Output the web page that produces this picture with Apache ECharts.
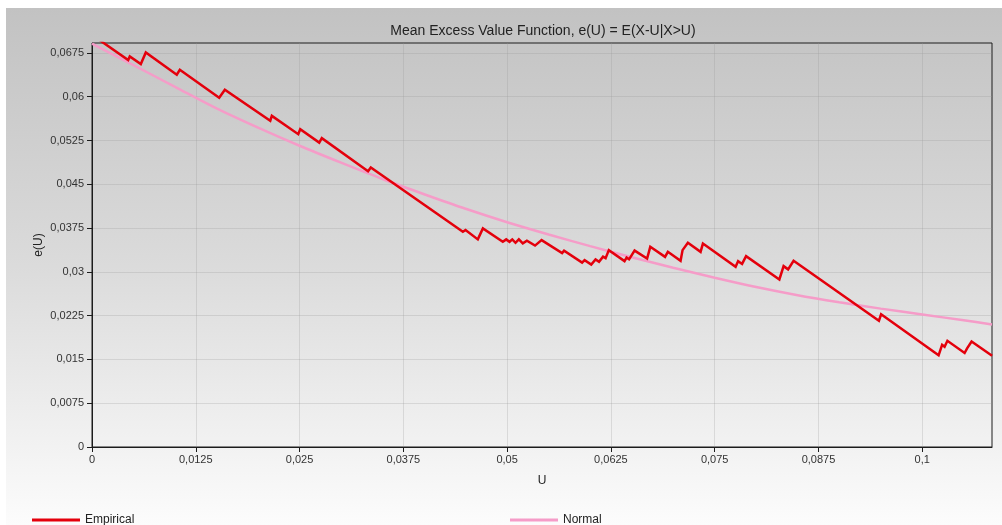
<!DOCTYPE html>
<html>
<head>
<meta charset="utf-8">
<script src="https://cdn.jsdelivr.net/npm/echarts@6/dist/echarts.min.js"></script>
<style>
  html, body { margin: 0; padding: 0; background: #ffffff; }
  #chart { width: 1002px; height: 525px; }
</style>
</head>
<body>
<div id="chart"></div>
<script>
// Empirical mean excess function: vertices of the sawtooth path (threshold U, e(U))
const empiricalU = [0, 0.00436, 0.00455, 0.00588, 0.00648, 0.01021, 0.01058, 0.01532, 0.01600, 0.02147,
  0.02166, 0.02484, 0.02508, 0.02737, 0.02768, 0.03325, 0.03358, 0.04467, 0.04499, 0.04647,
  0.04708, 0.04948, 0.04989, 0.05029, 0.05062, 0.05101, 0.05141, 0.05189, 0.05238, 0.05336,
  0.05415, 0.05662, 0.05686, 0.05903, 0.05933, 0.06013, 0.06065, 0.06107, 0.06155, 0.06186,
  0.06225, 0.06414, 0.06439, 0.06469, 0.06535, 0.06686, 0.06724, 0.06902, 0.06936, 0.07089,
  0.07113, 0.07137, 0.07177, 0.07330, 0.07358, 0.07752, 0.07782, 0.07830, 0.07878, 0.08279,
  0.08330, 0.08384, 0.08450, 0.09478, 0.09504, 0.10197, 0.10239, 0.10269, 0.10303, 0.10510,
  0.10540, 0.10564, 0.10594, 0.10841];
const empiricalE = [0.0706, 0.06628, 0.06690, 0.06559, 0.06759, 0.06376, 0.06462, 0.05981, 0.06118, 0.05586,
  0.05672, 0.05358, 0.05444, 0.05214, 0.05290, 0.04722, 0.04788, 0.03686, 0.03716, 0.03556,
  0.03745, 0.03515, 0.03556, 0.03515, 0.03556, 0.03498, 0.03556, 0.03487, 0.03532, 0.03450,
  0.03544, 0.03321, 0.03364, 0.03158, 0.03201, 0.03124, 0.03213, 0.03172, 0.03261, 0.03235,
  0.03372, 0.03184, 0.03244, 0.03215, 0.03364, 0.03227, 0.03429, 0.03257, 0.03343, 0.03189,
  0.03372, 0.03348, 0.03498, 0.03342, 0.03484, 0.03086, 0.03184, 0.03136, 0.03269, 0.02870,
  0.03098, 0.03043, 0.03189, 0.02162, 0.02274, 0.01570, 0.01751, 0.01716, 0.01819, 0.01610,
  0.01690, 0.01665, 0.01807, 0.01562];

// Fitted normal mean excess curve
const normalU = [0, 0.005, 0.01, 0.015, 0.02, 0.025, 0.03, 0.035, 0.04, 0.045, 0.05, 0.055,
  0.06, 0.065, 0.07, 0.075, 0.08, 0.085, 0.09, 0.095, 0.1, 0.105, 0.1084];
const normalE = [0.0691, 0.0654, 0.0617, 0.0580, 0.0547, 0.0516, 0.0487, 0.0459, 0.0433, 0.0408, 0.0385, 0.0364,
  0.0344, 0.0325, 0.0307, 0.0290, 0.0274, 0.0260, 0.0248, 0.0237, 0.0227, 0.0217, 0.0210];

// Axis ticks
const xTicks = [0, 0.0125, 0.025, 0.0375, 0.05, 0.0625, 0.075, 0.0875, 0.1];
const yTicks = [0, 0.0075, 0.015, 0.0225, 0.03, 0.0375, 0.045, 0.0525, 0.06, 0.0675];
const xMax = 0.1084;
const yMax = 0.0692;

const FONT = "'Liberation Sans', Arial, sans-serif";
const fmt = v => String(+(+v).toFixed(6)).replace('.', ',');
const zip = (a, b) => a.map((x, i) => [x, b[i]]);

const chart = echarts.init(document.getElementById('chart'), null, { renderer: 'canvas' });

chart.setOption({
  backgroundColor: '#ffffff',
  animation: false,
  graphic: {
    elements: [{
      type: 'rect',
      silent: true,
      z: -100,
      shape: { x: 6, y: 8, width: 996, height: 517 },
      style: {
        fill: new echarts.graphic.LinearGradient(0, 0, 0, 1, [
          { offset: 0, color: '#c2c2c2' },
          { offset: 0.5, color: '#dbdbdb' },
          { offset: 1, color: '#fcfcfc' }
        ])
      }
    }]
  },
  title: {
    text: 'Mean Excess Value Function, e(U) = E(X-U|X>U)',
    left: 538,
    textAlign: 'center',
    top: 19,
    textStyle: { fontFamily: FONT, fontSize: 14, fontWeight: 'normal', color: '#222' }
  },
  legend: [
    {
      data: ['Empirical'], left: 32, top: 514, padding: 0,
      icon: 'rect', itemWidth: 48, itemHeight: 3, itemGap: 5,
      textStyle: { fontFamily: FONT, fontSize: 12, color: '#222' }
    },
    {
      data: ['Normal'], left: 510, top: 514, padding: 0,
      icon: 'rect', itemWidth: 48, itemHeight: 3, itemGap: 5,
      textStyle: { fontFamily: FONT, fontSize: 12, color: '#222' }
    }
  ],
  grid: {
    left: 92, right: 10, top: 43, bottom: 78,
    show: true, borderColor: '#1c1c1c', borderWidth: 1, backgroundColor: 'transparent'
  },
  xAxis: {
    type: 'value',
    min: 0, max: xMax, interval: 0.0125,
    name: 'U', nameLocation: 'middle', nameGap: 28,
    nameTextStyle: { fontFamily: FONT, fontSize: 12, color: '#222' },
    axisLine: { show: true, lineStyle: { color: '#1c1c1c', width: 1 } },
    axisTick: { show: true, length: 5, lineStyle: { color: '#1c1c1c' }, customValues: xTicks },
    axisLabel: { fontFamily: FONT, fontSize: 11, color: '#333', margin: 7, formatter: fmt, customValues: xTicks },
    splitLine: { show: true, lineStyle: { color: 'rgba(150,150,150,0.26)', width: 1 } }
  },
  yAxis: {
    type: 'value',
    min: 0, max: yMax, interval: 0.0075,
    name: 'e(U)', nameLocation: 'middle', nameGap: 47, nameRotate: 90, nameMoveOverlap: false,
    nameTextStyle: { fontFamily: FONT, fontSize: 12, color: '#222' },
    axisLine: { show: true, lineStyle: { color: '#1c1c1c', width: 1 } },
    axisTick: { show: true, length: 5, lineStyle: { color: '#1c1c1c' }, customValues: yTicks },
    axisLabel: { fontFamily: FONT, fontSize: 11, color: '#333', margin: 8, formatter: fmt, customValues: yTicks },
    splitLine: { show: true, lineStyle: { color: 'rgba(150,150,150,0.26)', width: 1 } }
  },
  series: [
    {
      name: 'Normal',
      type: 'line',
      data: zip(normalU, normalE),
      smooth: 0.3,
      showSymbol: false,
      symbol: 'none',
      clip: true,
      lineStyle: { color: '#f59cc8', width: 2.5 },
      itemStyle: { color: '#f59cc8' }
    },
    {
      name: 'Empirical',
      type: 'line',
      data: zip(empiricalU, empiricalE),
      showSymbol: false,
      symbol: 'none',
      clip: true,
      lineStyle: { color: '#e4000c', width: 2.5, join: 'miter' },
      itemStyle: { color: '#e4000c' }
    }
  ]
});
</script>
</body>
</html>
